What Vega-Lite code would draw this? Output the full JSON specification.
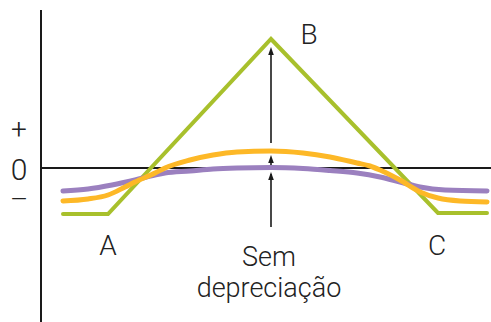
{
  "$schema": "https://vega.github.io/schema/vega-lite/v6.json",
  "width": 491,
  "height": 322,
  "padding": 0,
  "autosize": {"type": "none"},
  "config": {"view": {"stroke": null}},
  "datasets": {
    "frame": [
      {"x": 41, "y": 158, "x2": 41, "y2": -154},
      {"x": 41, "y": 0, "x2": 491, "y2": 0}
    ],
    "green": [
      {"x": 63, "y": -46}, {"x": 108, "y": -46}, {"x": 271, "y": 129}, {"x": 438, "y": -45}, {"x": 487, "y": -45}
    ],
    "orange": [
      {"x": 63, "y": -33}, {"x": 88, "y": -31}, {"x": 108, "y": -27}, {"x": 125, "y": -19}, {"x": 135, "y": -14},
      {"x": 155, "y": -5}, {"x": 165, "y": 0}, {"x": 190, "y": 8}, {"x": 213, "y": 13}, {"x": 237, "y": 16},
      {"x": 271, "y": 17}, {"x": 303, "y": 15}, {"x": 330, "y": 11}, {"x": 357, "y": 5}, {"x": 370, "y": 2},
      {"x": 380, "y": -2}, {"x": 400, "y": -12}, {"x": 420, "y": -24}, {"x": 438, "y": -30}, {"x": 460, "y": -33},
      {"x": 487, "y": -34}
    ],
    "purple": [
      {"x": 63, "y": -23}, {"x": 88, "y": -21}, {"x": 112, "y": -17}, {"x": 135, "y": -12}, {"x": 155, "y": -7},
      {"x": 165, "y": -5}, {"x": 190, "y": -3}, {"x": 213, "y": -1}, {"x": 237, "y": 0}, {"x": 271, "y": 0.5},
      {"x": 303, "y": -0.5}, {"x": 330, "y": -2.5}, {"x": 357, "y": -5}, {"x": 380, "y": -9},
      {"x": 400, "y": -14}, {"x": 420, "y": -19}, {"x": 445, "y": -22}, {"x": 487, "y": -23}
    ],
    "arrows": [
      {"x": 271, "y": -59, "y2": -6, "hy": -8},
      {"x": 271, "y": 3, "y2": 10, "hy": 9},
      {"x": 271, "y": 25, "y2": 118, "hy": 117}
    ],
    "labels": [
      {"x": 309, "y": 124, "label": "B", "size": 28},
      {"x": 108, "y": -87, "label": "A", "size": 28},
      {"x": 437, "y": -87, "label": "C", "size": 28},
      {"x": 269, "y": -98, "label": "Sem", "size": 27},
      {"x": 269, "y": -129, "label": "depreciação", "size": 27},
      {"x": 19, "y": 29, "label": "+", "size": 28},
      {"x": 19, "y": -12, "label": "0", "size": 30},
      {"x": 19, "y": -41, "label": "–", "size": 28}
    ]
  },
  "encoding": {
    "x": {"field": "x", "type": "quantitative", "scale": {"domain": [0, 491], "nice": false, "zero": false}, "axis": null},
    "y": {"field": "y", "type": "quantitative", "scale": {"domain": [-154, 168], "nice": false, "zero": false}, "axis": null}
  },
  "layer": [
    {
      "data": {"name": "frame"},
      "mark": {"type": "rule", "color": "#1a1a1a", "strokeWidth": 2},
      "encoding": {"x2": {"field": "x2"}, "y2": {"field": "y2"}}
    },
    {
      "data": {"name": "green"},
      "mark": {"type": "line", "color": "#a8c02c", "strokeWidth": 4, "strokeJoin": "miter", "strokeCap": "round", "interpolate": "linear"},
      "encoding": {"order": {"field": "x"}}
    },
    {
      "data": {"name": "purple"},
      "mark": {"type": "line", "color": "#9b80bf", "strokeWidth": 5, "strokeCap": "round", "interpolate": "monotone"},
      "encoding": {"order": {"field": "x"}}
    },
    {
      "data": {"name": "orange"},
      "mark": {"type": "line", "color": "#fdb827", "strokeWidth": 5, "strokeCap": "round", "interpolate": "monotone"},
      "encoding": {"order": {"field": "x"}}
    },
    {
      "data": {"name": "arrows"},
      "mark": {"type": "rule", "color": "#1a1a1a", "strokeWidth": 1.6},
      "encoding": {"y2": {"field": "y2"}}
    },
    {
      "data": {"name": "arrows"},
      "mark": {"type": "point", "shape": "M0,-1L0.7,1L-0.7,1Z", "size": 64, "filled": true, "color": "#1a1a1a", "opacity": 1, "strokeWidth": 0},
      "encoding": {"y": {"field": "hy", "type": "quantitative"}}
    },
    {
      "data": {"name": "labels"},
      "mark": {"type": "text", "font": "Roboto", "fontWeight": 300, "color": "#222222", "align": "center", "baseline": "alphabetic"},
      "encoding": {
        "text": {"field": "label"},
        "size": {"field": "size", "type": "quantitative", "scale": null}
      }
    }
  ]
}
